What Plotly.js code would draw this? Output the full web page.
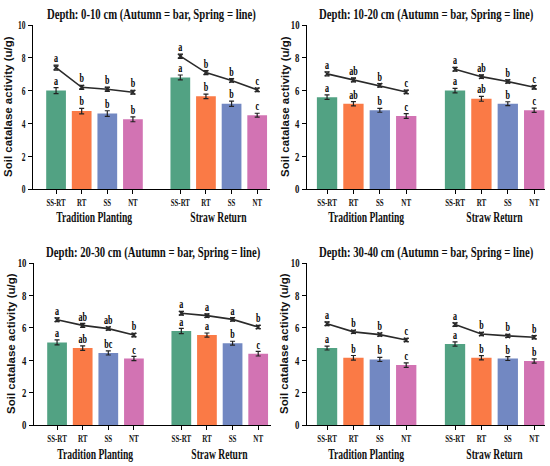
<!DOCTYPE html>
<html>
<head>
<meta charset="utf-8">
<script src="https://cdn.plot.ly/plotly-3.0.1.min.js"></script>
<style>html,body{margin:0;padding:0;background:#fff;}#chart{width:550px;height:466px;}</style>
</head>
<body>
<div id="chart"></div>
<script>
// ---- data ----
const treatments = ['SS-RT', 'RT', 'SS', 'NT'];
const groups = ['Tradition Planting', 'Straw Return'];
const depths = ['0-10 cm', '10-20 cm', '20-30 cm', '30-40 cm'];
const barColors = ['#52a283', '#fa7a46', '#7288c2', '#d273b3'];

// order: Tradition SS-RT, RT, SS, NT, Straw SS-RT, RT, SS, NT
const autumn_0_10  = [6.00, 4.75, 4.60, 4.25, 6.80, 5.65, 5.20, 4.50];
const autumn_10_20 = [5.60, 5.20, 4.80, 4.45, 6.00, 5.50, 5.20, 4.80];
const autumn_20_30 = [5.10, 4.75, 4.45, 4.10, 5.80, 5.55, 5.05, 4.40];
const autumn_30_40 = [4.75, 4.15, 4.05, 3.70, 5.00, 4.15, 4.10, 3.95];

const spring_0_10  = [7.40, 6.20, 6.08, 5.90, 8.10, 7.10, 6.62, 6.05];
const spring_10_20 = [7.02, 6.65, 6.32, 5.92, 7.30, 6.85, 6.55, 6.20];
const spring_20_30 = [6.50, 6.15, 5.95, 5.55, 6.90, 6.75, 6.52, 6.05];
const spring_30_40 = [6.25, 5.75, 5.58, 5.25, 6.20, 5.62, 5.50, 5.42];

const autumnErr_0_10  = [0.18, 0.17, 0.17, 0.15, 0.15, 0.14, 0.16, 0.12];
const autumnErr_10_20 = [0.14, 0.13, 0.12, 0.14, 0.14, 0.15, 0.12, 0.13];
const autumnErr_20_30 = [0.15, 0.14, 0.13, 0.13, 0.16, 0.13, 0.12, 0.14];
const autumnErr_30_40 = [0.12, 0.14, 0.13, 0.14, 0.13, 0.13, 0.12, 0.13];

const springErr_0_10  = [0.15, 0.12, 0.13, 0.12, 0.13, 0.12, 0.11, 0.11];
const springErr_10_20 = [0.13, 0.12, 0.11, 0.11, 0.12, 0.11, 0.10, 0.11];
const springErr_20_30 = [0.12, 0.12, 0.10, 0.11, 0.12, 0.11, 0.11, 0.10];
const springErr_30_40 = [0.12, 0.10, 0.10, 0.10, 0.11, 0.10, 0.10, 0.10];

const autumnLetters_0_10  = ['a', 'b', 'b', 'b', 'a', 'b', 'b', 'c'];
const autumnLetters_10_20 = ['a', 'ab', 'b', 'c', 'a', 'ab', 'b', 'c'];
const autumnLetters_20_30 = ['a', 'ab', 'bc', 'c', 'a', 'a', 'b', 'c'];
const autumnLetters_30_40 = ['a', 'b', 'b', 'c', 'a', 'b', 'b', 'b'];

const springLetters_0_10  = ['a', 'b', 'b', 'b', 'a', 'b', 'b', 'c'];
const springLetters_10_20 = ['a', 'ab', 'b', 'c', 'a', 'ab', 'b', 'c'];
const springLetters_20_30 = ['a', 'ab', 'ab', 'b', 'a', 'a', 'a', 'b'];
const springLetters_30_40 = ['a', 'b', 'b', 'c', 'a', 'b', 'b', 'b'];

const slotPositions = [0, 1, 2, 3, 4.85, 5.85, 6.85, 7.85];

// ---- build ----
const autumn = [autumn_0_10, autumn_10_20, autumn_20_30, autumn_30_40];
const spring = [spring_0_10, spring_10_20, spring_20_30, spring_30_40];
const autumnErr = [autumnErr_0_10, autumnErr_10_20, autumnErr_20_30, autumnErr_30_40];
const springErr = [springErr_0_10, springErr_10_20, springErr_20_30, springErr_30_40];
const autumnLetters = [autumnLetters_0_10, autumnLetters_10_20, autumnLetters_20_30, autumnLetters_30_40];
const springLetters = [springLetters_0_10, springLetters_10_20, springLetters_20_30, springLetters_30_40];

const serif = '"Liberation Serif", "Times New Roman", Times, serif';
const sans = '"Liberation Sans", Arial, sans-serif';
const W = 550, H = 466;

// panel geometry in pixels
const panels = [
  {x0: 33, x1: 270, y0: 25, y1: 189, range: [-0.9, 8.35], ytitleX: 8},
  {x0: 307, x1: 545, y0: 25, y1: 189, range: [-0.76, 8.26], ytitleX: 285},
  {x0: 34, x1: 271, y0: 263, y1: 425, range: [-0.9, 8.35], ytitleX: 11},
  {x0: 307, x1: 545, y0: 263, y1: 425, range: [-0.76, 8.26], ytitleX: 284}
];
const titleY = [14, 14, 252, 252];
const groupLabelTop = [206.5, 206.5, 444, 444];

const tickLabels = groups.flatMap(() => treatments);
const allColors = groups.flatMap(() => barColors);

const traces = [];
const layout = {
  width: W, height: H,
  margin: {l: 0, r: 0, t: 0, b: 0},
  paper_bgcolor: '#fff', plot_bgcolor: '#fff',
  showlegend: false,
  annotations: []
};

panels.forEach((p, k) => {
  const n = k + 1;
  const xa = 'x' + (n === 1 ? '' : n), ya = 'y' + (n === 1 ? '' : n);
  const xkey = 'xaxis' + (n === 1 ? '' : n), ykey = 'yaxis' + (n === 1 ? '' : n);

  traces.push({
    type: 'bar', x: slotPositions, y: autumn[k], width: 0.77,
    marker: {color: allColors, line: {width: 0}},
    error_y: {type: 'data', array: autumnErr[k], visible: true, color: '#222', thickness: 1.2, width: 2.5},
    xaxis: xa, yaxis: ya, hoverinfo: 'skip'
  });
  [0, 1].forEach(gi => {
    traces.push({
      type: 'scatter', mode: 'lines+markers',
      x: slotPositions.slice(gi * 4, gi * 4 + 4), y: spring[k].slice(gi * 4, gi * 4 + 4),
      line: {color: '#2a2a2a', width: 1.6},
      marker: {symbol: 'x-thin-open', size: 4.5, color: '#2a2a2a', line: {width: 1.4, color: '#2a2a2a'}},
      error_y: {type: 'data', array: springErr[k].slice(gi * 4, gi * 4 + 4), visible: true, color: '#222', thickness: 1.2, width: 2.5},
      xaxis: xa, yaxis: ya, hoverinfo: 'skip'
    });
  });
  // significance letters
  traces.push({
    type: 'scatter', mode: 'text', x: slotPositions,
    y: autumn[k].map((v, i) => v + autumnErr[k][i]),
    text: autumnLetters[k], textposition: 'top center',
    textfont: {family: serif, size: 11.5, color: '#000', weight: 700},
    xaxis: xa, yaxis: ya, hoverinfo: 'skip', cliponaxis: false
  });
  traces.push({
    type: 'scatter', mode: 'text', x: slotPositions,
    y: spring[k].map((v, i) => v + springErr[k][i]),
    text: springLetters[k], textposition: 'top center',
    textfont: {family: serif, size: 11.5, color: '#000', weight: 700},
    xaxis: xa, yaxis: ya, hoverinfo: 'skip', cliponaxis: false
  });

  layout[xkey] = {
    domain: [p.x0 / W, p.x1 / W], range: p.range, anchor: ya,
    tickvals: slotPositions, ticktext: tickLabels,
    ticks: 'outside', ticklen: 4, tickwidth: 1, tickcolor: '#000',
    showline: true, linecolor: '#000', linewidth: 1,
    showgrid: false, zeroline: false, fixedrange: true,
    tickfont: {family: serif, size: 10, color: '#111', weight: 700}
  };
  layout[ykey] = {
    domain: [1 - p.y1 / H, 1 - p.y0 / H], range: [0, 10], anchor: xa,
    dtick: 2, ticks: 'outside', ticklen: 4, tickwidth: 1, tickcolor: '#000',
    showline: true, linecolor: '#000', linewidth: 1,
    showgrid: false, zeroline: false, fixedrange: true,
    tickfont: {family: serif, size: 12.5, color: '#111', weight: 700}
  };

  layout.annotations.push({
    text: 'Depth: ' + depths[k] + ' (Autumn = bar, Spring = line)',
    xref: 'paper', yref: 'paper', x: (p.x0 + p.x1) / 2 / W, y: 1 - titleY[k] / H,
    xanchor: 'center', yanchor: 'middle', showarrow: false,
    font: {family: serif, size: 15, color: '#111', weight: 700}
  });
  layout.annotations.push({
    text: 'Soil catalase activity (u/g)', textangle: -90,
    xref: 'paper', yref: 'paper', x: p.ytitleX / W, y: 1 - (p.y0 + p.y1) / 2 / H,
    xanchor: 'center', yanchor: 'middle', showarrow: false,
    font: {family: sans, size: 11.5, color: '#111', weight: 700}
  });
  groups.forEach((g, gi) => {
    const xs = slotPositions.slice(gi * 4, gi * 4 + 4);
    layout.annotations.push({
      text: g, xref: xa, yref: 'paper',
      x: (xs[0] + xs[3]) / 2, y: 1 - groupLabelTop[k] / H,
      xanchor: 'center', yanchor: 'top', showarrow: false, borderpad: 0,
      font: {family: serif, size: 15.5, color: '#111', weight: 700}
    });
  });
});

// The reference sets its serif text in a narrow cut: squeeze glyphs horizontally
// about each text's own anchor point.
function condense(gd) {
  gd.querySelectorAll('text').forEach(t => {
    const fam = t.style.fontFamily || '';
    if (!/Liberation Serif/.test(fam)) return;
    const s = t.textContent;
    let f = 0.7;
    if (t.closest('.ytick')) f = 0.6;
    else if (t.closest('.xtick')) f = 0.68;
    else if (groups.indexOf(s) >= 0) f = 0.62;
    else if (/^Depth/.test(s)) f = 0.715;
    const x = parseFloat(t.getAttribute('x')) || 0;
    const prev = t.getAttribute('transform') || '';
    t.setAttribute('transform', (prev + ' translate(' + x + ',0) scale(' + f + ',1) translate(' + (-x) + ',0)').trim());
  });
}

Plotly.newPlot('chart', traces, layout, {staticPlot: true, displayModeBar: false})
  .then(gd => condense(gd));
</script>
</body>
</html>
